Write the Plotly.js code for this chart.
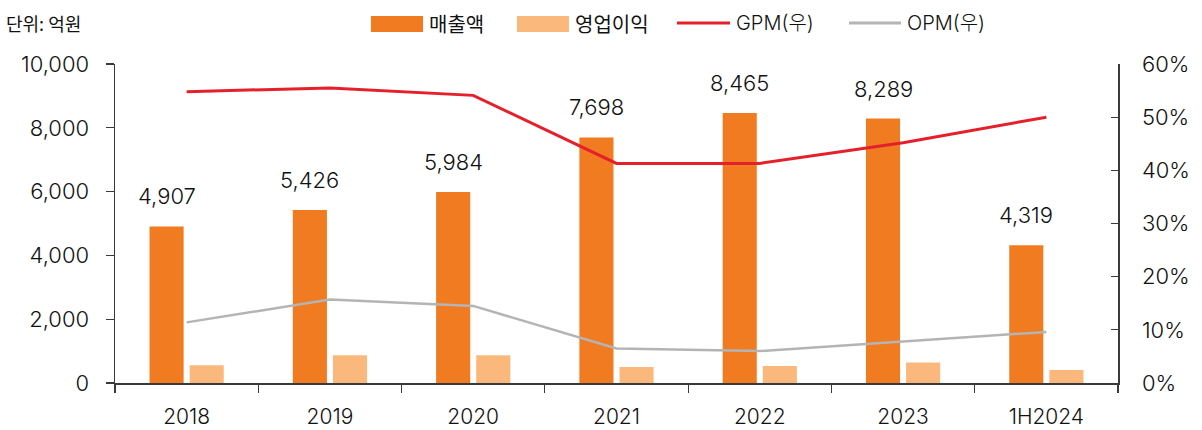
<!DOCTYPE html>
<html>
<head>
<meta charset="utf-8">
<script src="https://cdn.plot.ly/plotly-3.0.1.min.js"></script>
<style>html,body{margin:0;padding:0;background:#fff;}#chart{width:1202px;height:430px;}</style>
</head>
<body>
<div id="chart"></div>
<script>
// ---- data ----
const categories = ['2018', '2019', '2020', '2021', '2022', '2023', '1H2024'];
const revenue = [4907, 5426, 5984, 7698, 8465, 8289, 4319];          // 매출액 (억원)
const opProfit = [560, 870, 870, 505, 530, 640, 405];                // 영업이익 (억원)
const gpm = [54.8, 55.5, 54.1, 41.3, 41.3, 45.2, 50.0];               // GPM (%)
const opm = [11.4, 15.7, 14.5, 6.5, 6.0, 7.8, 9.6];                   // OPM (%)
const seriesNames = ['매출액', '영업이익', 'GPM(우)', 'OPM(우)'];
const unitLabel = '단위: 억원';

const FONT = 'Inter, "Noto Sans CJK KR", sans-serif';
const KFONT = '"Noto Sans CJK KR", Inter, sans-serif';
const C_REV = '#F17B21', C_OP = '#FBB87D', C_GPM = '#E5202B', C_OPM = '#B4B4B4';
const AX = '#3a3a3a';
const NUMW = 300;

const traces = [
  {type: 'bar', x: categories, y: revenue, name: seriesNames[0], marker: {color: C_REV}, showlegend: false, hoverinfo: 'skip'},
  {type: 'bar', x: categories, y: opProfit, name: seriesNames[1], marker: {color: C_OP}, showlegend: false, hoverinfo: 'skip'},
  {type: 'scatter', mode: 'lines', x: categories, y: gpm, yaxis: 'y2', name: seriesNames[2], line: {color: C_GPM, width: 3}, showlegend: false, hoverinfo: 'skip'},
  {type: 'scatter', mode: 'lines', x: categories, y: opm, yaxis: 'y2', name: seriesNames[3], line: {color: C_OPM, width: 2.5}, showlegend: false, hoverinfo: 'skip'}
];

// value labels above revenue bars (x given as category index)
const annotations = categories.map((c, i) => ({
  x: i, y: revenue[i], xref: 'x', yref: 'y',
  text: revenue[i].toLocaleString('en-US'),
  showarrow: false, xanchor: 'center', yanchor: 'bottom',
  xshift: -20, yshift: 15,
  font: {family: FONT, size: 22, color: '#111', weight: NUMW}
}));

// custom legend
const L = [
  {kind: 'rect', x0: 0.2552, x1: 0.3071, tx: 0.3111, color: C_REV},
  {kind: 'rect', x0: 0.4008, x1: 0.4526, tx: 0.4566, color: C_OP},
  {kind: 'line', x0: 0.5603, x1: 0.6132, tx: 0.6171, color: C_GPM, w: 3},
  {kind: 'line', x0: 0.7318, x1: 0.7837, tx: 0.7876, color: C_OPM, w: 3}
];
const shapes = [];
L.forEach((it, i) => {
  if (it.kind === 'rect') {
    shapes.push({type: 'rect', xref: 'paper', yref: 'paper', x0: it.x0, x1: it.x1, y0: 1.1003, y1: 1.1505,
      fillcolor: it.color, line: {width: 0}});
  } else {
    shapes.push({type: 'line', xref: 'paper', yref: 'paper', x0: it.x0, x1: it.x1, y0: 1.1285, y1: 1.1285,
      line: {color: it.color, width: it.w}});
  }
  annotations.push({xref: 'paper', yref: 'paper', x: it.tx, y: 1.1285, text: seriesNames[i],
    showarrow: false, xanchor: 'left', yanchor: 'middle',
    font: {family: i < 2 ? KFONT : FONT, size: 20, color: '#111', weight: i < 2 ? 400 : NUMW}});
});
annotations.push({xref: 'paper', yref: 'paper', x: -0.1107, y: 1.1285, text: unitLabel,
  showarrow: false, xanchor: 'left', yanchor: 'middle',
  font: {family: KFONT, size: 18, color: '#111'}});

const layout = {
  width: 1202, height: 430,
  margin: {l: 115, r: 84, t: 64, b: 47, pad: 0},
  paper_bgcolor: '#fff', plot_bgcolor: '#fff',
  barmode: 'group', bargap: 0.44, bargroupgap: 0.15,
  showlegend: false,
  font: {family: FONT, color: '#111'},
  xaxis: {
    type: 'category', range: [-0.5, 6.5],
    showline: true, linecolor: AX, linewidth: 1.5,
    ticks: 'outside', tickson: 'boundaries', ticklen: 8, tickcolor: AX, tickwidth: 1.2,
    ticklabelstandoff: 14,
    tickfont: {family: FONT, size: 21, color: '#111', weight: NUMW},
    showgrid: false, zeroline: false, fixedrange: true
  },
  yaxis: {
    range: [0, 10000], dtick: 2000, tickformat: ',',
    showline: true, linecolor: AX, linewidth: 1.5,
    ticks: 'outside', ticklen: 8, tickcolor: AX, tickwidth: 1.2,
    ticklabelstandoff: 12,
    tickfont: {family: FONT, size: 22, color: '#111', weight: NUMW},
    showgrid: false, zeroline: false, fixedrange: true
  },
  yaxis2: {
    overlaying: 'y', side: 'right', range: [0, 60], dtick: 10, ticksuffix: '%',
    showline: true, linecolor: AX, linewidth: 1.5,
    ticks: 'inside', ticklen: 7, tickcolor: AX, tickwidth: 1.2,
    ticklabelstandoff: 18,
    tickfont: {family: FONT, size: 22, color: '#111', weight: NUMW},
    showgrid: false, zeroline: false, fixedrange: true
  },
  annotations: annotations,
  shapes: shapes
};

Plotly.newPlot('chart', traces, layout, {displayModeBar: false, staticPlot: true});
</script>
</body>
</html>
